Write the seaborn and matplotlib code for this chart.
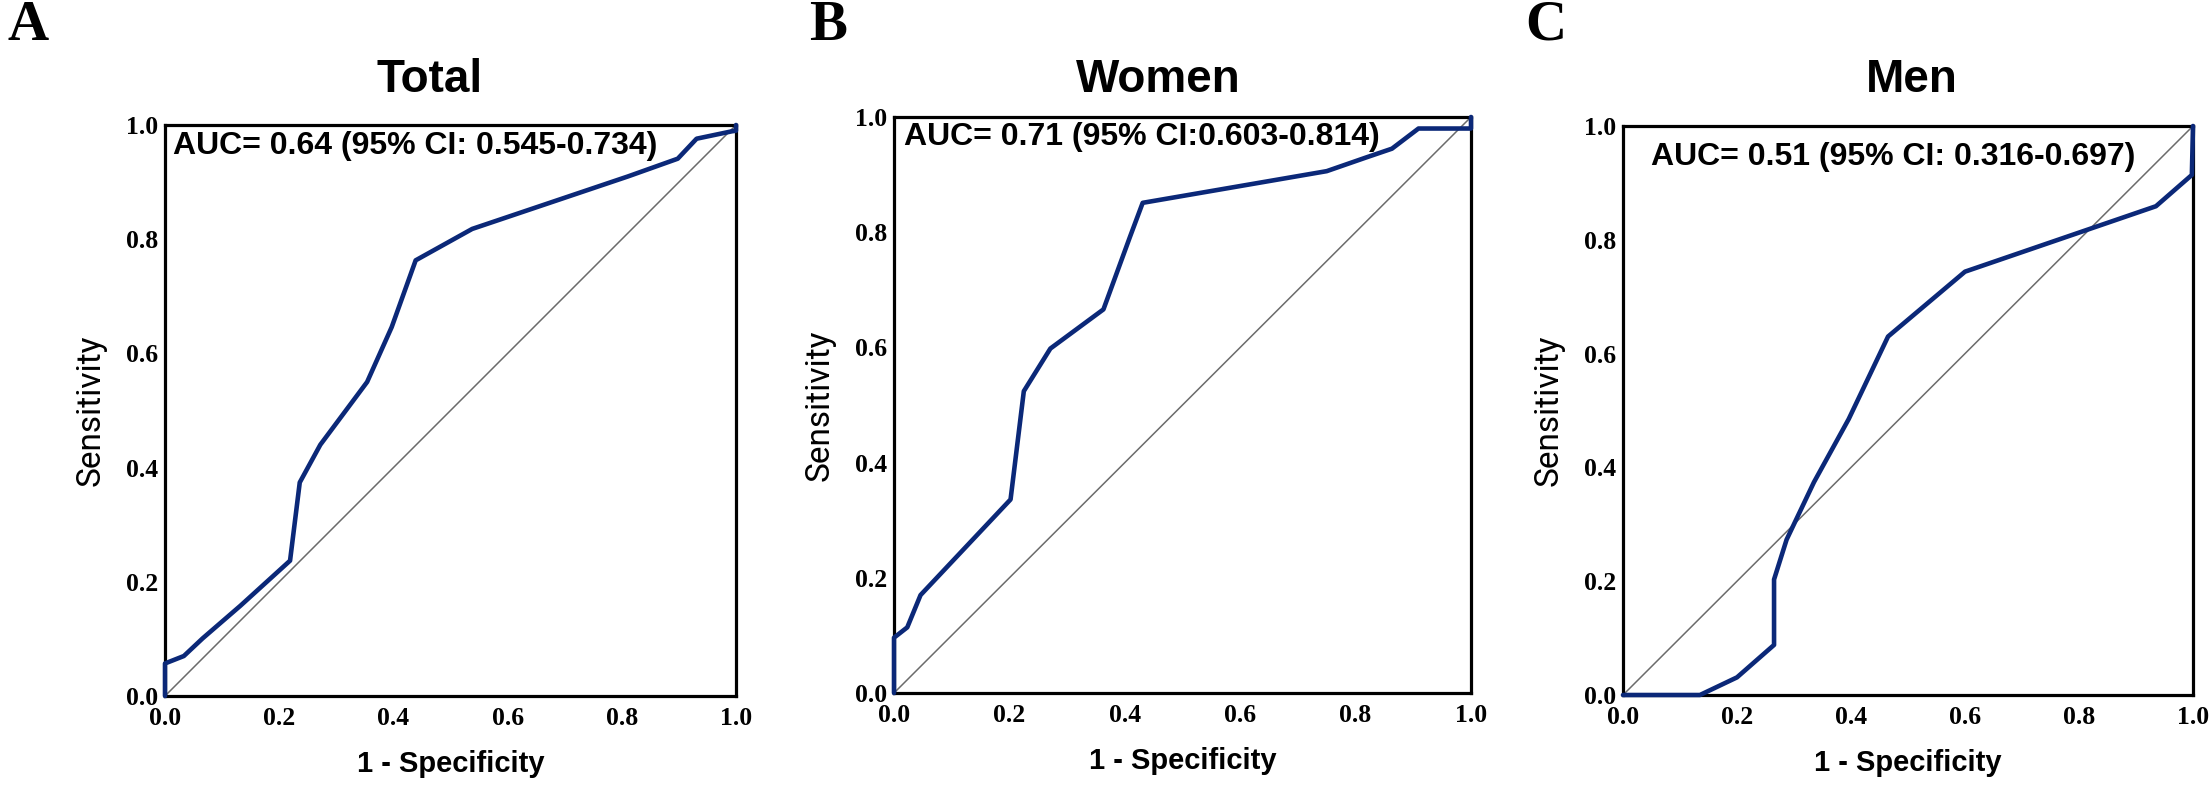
import matplotlib
matplotlib.use("Agg")
import matplotlib.pyplot as plt
import seaborn as sns
import pandas as pd

# Curvas ROC (1 - especificidad, sensibilidad)
total_fpr = [0.0, 0.0, 0.033, 0.066, 0.132, 0.219, 0.236, 0.272, 0.354, 0.397,
             0.439, 0.538, 0.811, 0.898, 0.931, 0.993, 1.0, 1.0]
total_tpr = [0.0, 0.057, 0.070, 0.101, 0.158, 0.237, 0.374, 0.440, 0.550, 0.646,
             0.763, 0.818, 0.910, 0.941, 0.976, 0.989, 0.990, 1.0]

women_fpr = [0.0, 0.0, 0.023, 0.046, 0.202, 0.225, 0.271, 0.363, 0.409, 0.431,
             0.750, 0.819, 0.863, 0.909, 1.0, 1.0]
women_tpr = [0.0, 0.096, 0.114, 0.170, 0.336, 0.524, 0.598, 0.666, 0.792, 0.851,
             0.906, 0.930, 0.945, 0.980, 0.980, 1.0]

men_fpr = [0.0, 0.135, 0.200, 0.265, 0.265, 0.287, 0.335, 0.396, 0.465, 0.600,
           0.935, 0.998, 1.0]
men_tpr = [0.0, 0.0, 0.031, 0.088, 0.203, 0.273, 0.374, 0.485, 0.630, 0.744,
           0.859, 0.914, 1.0]

titles = ["Total", "Women", "Men"]
letters = ["A", "B", "C"]
auc_labels = ["AUC= 0.64 (95% CI: 0.545-0.734)",
              "AUC= 0.71 (95% CI:0.603-0.814)",
              "AUC= 0.51 (95% CI: 0.316-0.697)"]
ticks = [0.0, 0.2, 0.4, 0.6, 0.8, 1.0]
tick_labels = ["0.0", "0.2", "0.4", "0.6", "0.8", "1.0"]

curves = [(total_fpr, total_tpr), (women_fpr, women_tpr), (men_fpr, men_tpr)]

sns.set_style("white")
plt.rcParams["font.family"] = ["Liberation Sans", "DejaVu Sans"]
plt.rcParams["text.color"] = "black"
plt.rcParams["axes.labelcolor"] = "black"
plt.rcParams["xtick.color"] = "black"
plt.rcParams["ytick.color"] = "black"

W, H = 2211, 788
fig = plt.figure(figsize=(W / 100, H / 100), dpi=100)

# cajas de los ejes en pixeles: izquierda, arriba, derecha, abajo
boxes = [(165, 125, 736, 696), (894, 117, 1471, 693), (1623, 126, 2193, 695)]
title_x = [430, 1158, 1912]
letter_x = [28, 828, 1546]
auc_pos = [(173, 146), (904, 137), (1651, 157)]

roc_color = "#0b2878"

for i, (x0, y0, x1, y1) in enumerate(boxes):
    w, h = x1 - x0, y1 - y0
    ax = fig.add_axes([x0 / W, 1 - y1 / H, w / W, h / H])
    fpr, tpr = curves[i]
    df = pd.DataFrame({"fpr": fpr, "tpr": tpr})

    # linea de referencia
    ax.plot([0, 1], [0, 1], color="#6b6b6b", lw=1.1, zorder=2)
    sns.lineplot(data=df, x="fpr", y="tpr", sort=False, estimator=None,
                 color=roc_color, lw=3.3, ax=ax, zorder=3, clip_on=False)

    ax.set_xlim(0, 1)
    ax.set_ylim(0, 1)
    ax.set_xticks(ticks)
    ax.set_yticks(ticks)
    ax.set_xticklabels(tick_labels, family="Liberation Serif", weight="bold", fontsize=18.5)
    ax.set_yticklabels(tick_labels, family="Liberation Serif", weight="bold", fontsize=18.5)
    ax.tick_params(axis="x", length=0, pad=8)
    ax.tick_params(axis="y", length=0, pad=5)
    for s in ax.spines.values():
        s.set_color("black")
        s.set_linewidth(2.3)

    ax.set_xlabel("1 - Specificity", fontsize=21, weight="bold")
    ax.xaxis.set_label_coords(0.5, -68 / h)
    ax.xaxis.label.set_va("center")
    ax.set_ylabel("Sensitivity", fontsize=24, family=["Roboto", "DejaVu Sans"])
    ax.yaxis.set_label_coords(-74 / w, 0.5)
    ax.yaxis.label.set_va("center")

    ax.set_title(titles[i], fontsize=33, weight="bold",
                 x=(title_x[i] - x0) / w, y=(y1 - 100) / h, va="baseline")

    ax_x, ax_y = auc_pos[i]
    ax.text((ax_x - x0) / w, (y1 - ax_y) / h, auc_labels[i], transform=ax.transAxes,
            fontsize=23, weight="bold", ha="left", va="center")

    fig.text(letter_x[i] / W, 1 - 26 / H, letters[i], family="Liberation Serif",
             weight="bold", fontsize=41, ha="center", va="center")

fig.savefig("out.png", dpi=100)
